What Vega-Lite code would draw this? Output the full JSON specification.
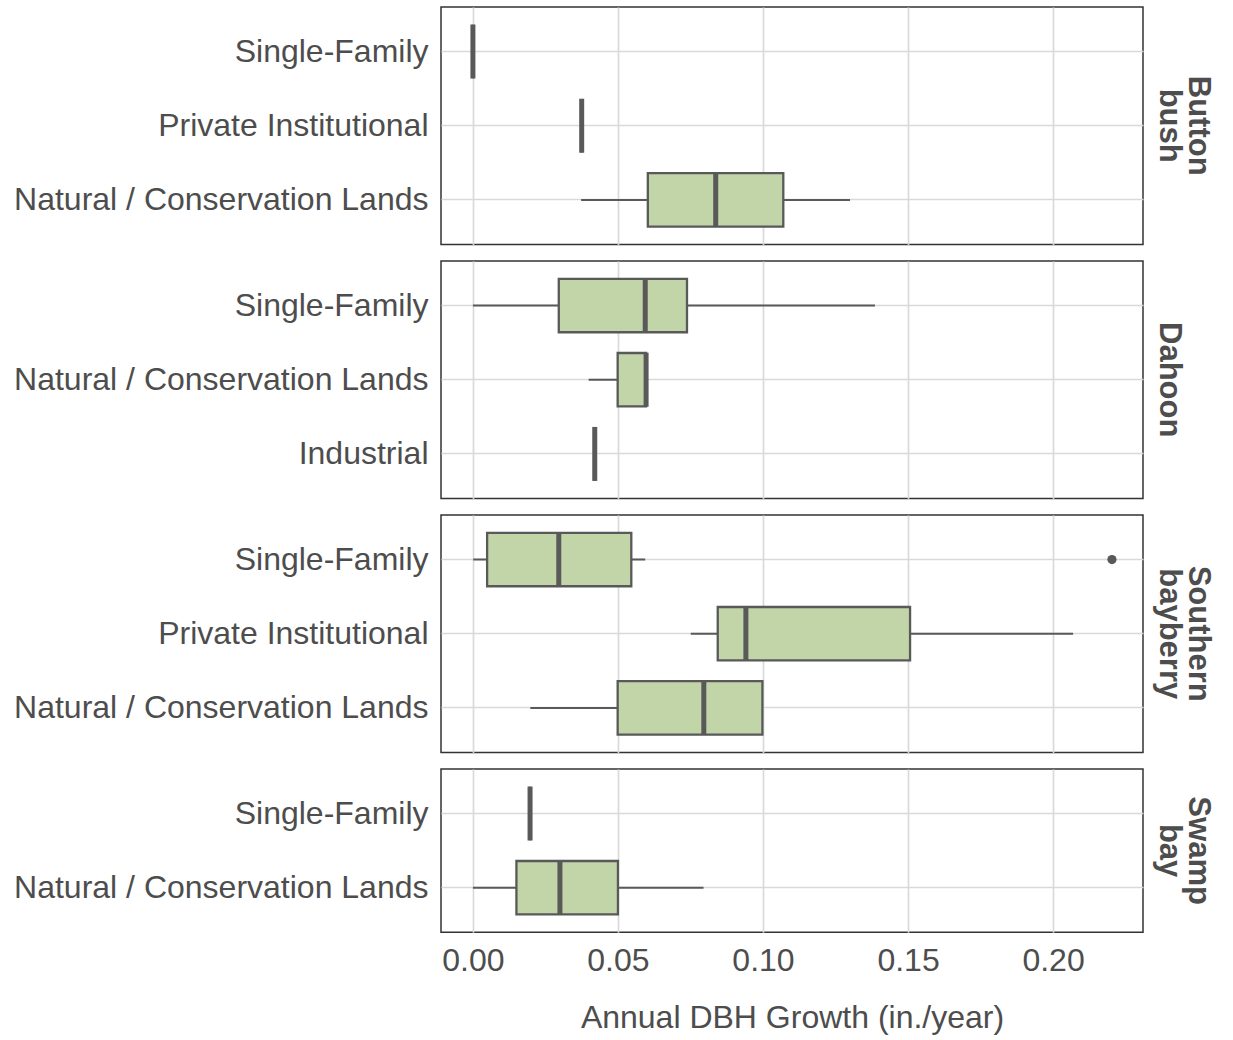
{
  "$schema": "https://vega.github.io/schema/vega-lite/v6.json",
  "padding": {"left": 12, "top": 6, "right": 5, "bottom": 5},
  "background": "white",
  "data": {
    "values": [
      {"species": "Button bush", "landuse": "Single-Family", "lower": 0.0, "q1": 0.0, "median": 0.0, "q3": 0.0, "upper": 0.0, "outlier": null},
      {"species": "Button bush", "landuse": "Private Institutional", "lower": 0.0375, "q1": 0.0375, "median": 0.0375, "q3": 0.0375, "upper": 0.0375, "outlier": null},
      {"species": "Button bush", "landuse": "Natural / Conservation Lands", "lower": 0.0373, "q1": 0.0603, "median": 0.0837, "q3": 0.107, "upper": 0.130, "outlier": null},
      {"species": "Dahoon", "landuse": "Single-Family", "lower": 0.0, "q1": 0.0296, "median": 0.0594, "q3": 0.0738, "upper": 0.1386, "outlier": null},
      {"species": "Dahoon", "landuse": "Natural / Conservation Lands", "lower": 0.0399, "q1": 0.0499, "median": 0.0597, "q3": 0.0597, "upper": 0.0597, "outlier": null},
      {"species": "Dahoon", "landuse": "Industrial", "lower": 0.042, "q1": 0.042, "median": 0.042, "q3": 0.042, "upper": 0.042, "outlier": null},
      {"species": "Southern bayberry", "landuse": "Single-Family", "lower": 0.0001, "q1": 0.0049, "median": 0.0296, "q3": 0.0546, "upper": 0.0594, "outlier": 0.2203},
      {"species": "Southern bayberry", "landuse": "Private Institutional", "lower": 0.0751, "q1": 0.0844, "median": 0.0941, "q3": 0.1507, "upper": 0.2069, "outlier": null},
      {"species": "Southern bayberry", "landuse": "Natural / Conservation Lands", "lower": 0.0198, "q1": 0.0499, "median": 0.0796, "q3": 0.0998, "upper": 0.0998, "outlier": null},
      {"species": "Swamp bay", "landuse": "Single-Family", "lower": 0.0197, "q1": 0.0197, "median": 0.0197, "q3": 0.0197, "upper": 0.0197, "outlier": null},
      {"species": "Swamp bay", "landuse": "Natural / Conservation Lands", "lower": 0.0, "q1": 0.015, "median": 0.030, "q3": 0.050, "upper": 0.0795, "outlier": null}
    ]
  },
  "facet": {
    "row": {
      "field": "species",
      "type": "nominal",
      "sort": ["Button bush", "Dahoon", "Southern bayberry", "Swamp bay"],
      "title": null,
      "header": {
        "labelOrient": "right",
        "labelAngle": 90,
        "labelAlign": "center",
        "labelBaseline": "bottom",
        "labelPadding": -22,
        "labelExpr": "split(datum.value, ' ')",
        "labelFont": "Liberation Sans",
        "labelFontSize": 31,
        "labelFontWeight": "bold",
        "labelColor": "#4d4d4d",
        "labelLineHeight": 29
      }
    }
  },
  "spacing": 14,
  "resolve": {"scale": {"y": "independent"}},
  "spec": {
    "width": 702,
    "height": {"step": 74.2},
    "encoding": {
      "y": {
        "field": "landuse",
        "type": "nominal",
        "sort": "descending",
        "title": null,
        "scale": {"paddingInner": 0, "paddingOuter": 0.1},
        "axis": {
          "bandPosition": 0.5,
          "ticks": false,
          "domain": false,
          "grid": true,
          "gridColor": "#d9d9d9",
          "gridWidth": 1.7,
          "labelFont": "Liberation Sans",
          "labelFontSize": 32,
          "labelColor": "#4d4d4d",
          "labelPadding": 13,
          "labelLimit": 600
        }
      }
    },
    "layer": [
      {
        "mark": {"type": "rule", "color": "#595959", "strokeWidth": 2},
        "encoding": {
          "x": {
            "field": "lower",
            "type": "quantitative",
            "title": "Annual DBH Growth (in./year)",
            "scale": {"domain": [-0.011, 0.231], "nice": false, "zero": false},
            "axis": {
              "values": [0, 0.05, 0.1, 0.15, 0.2],
              "format": ".2f",
              "ticks": false,
              "domain": false,
              "grid": true,
              "gridColor": "#d9d9d9",
              "gridWidth": 1.7,
              "labelFont": "Liberation Sans",
              "labelFontSize": 32,
              "labelColor": "#4d4d4d",
              "labelPadding": 12,
              "titleFont": "Liberation Sans",
              "titleFontSize": 32,
              "titleFontWeight": "normal",
              "titleColor": "#4d4d4d",
              "titlePadding": 26
            }
          },
          "x2": {"field": "upper"}
        }
      },
      {
        "mark": {"type": "bar", "fill": "#c2d5a8", "stroke": "#595959", "strokeWidth": 2.3, "height": {"band": 0.72}},
        "encoding": {
          "x": {"field": "q1", "type": "quantitative"},
          "x2": {"field": "q3"}
        }
      },
      {
        "mark": {"type": "tick", "color": "#595959", "orient": "vertical", "thickness": 5, "size": 54, "opacity": 1},
        "encoding": {
          "x": {"field": "median", "type": "quantitative"}
        }
      },
      {
        "transform": [{"filter": "datum.outlier != null"}],
        "mark": {"type": "circle", "color": "#595959", "size": 85, "opacity": 1},
        "encoding": {
          "x": {"field": "outlier", "type": "quantitative"}
        }
      }
    ]
  },
  "config": {
    "view": {"stroke": "#333333", "strokeWidth": 1.5},
    "font": "Liberation Sans"
  }
}
